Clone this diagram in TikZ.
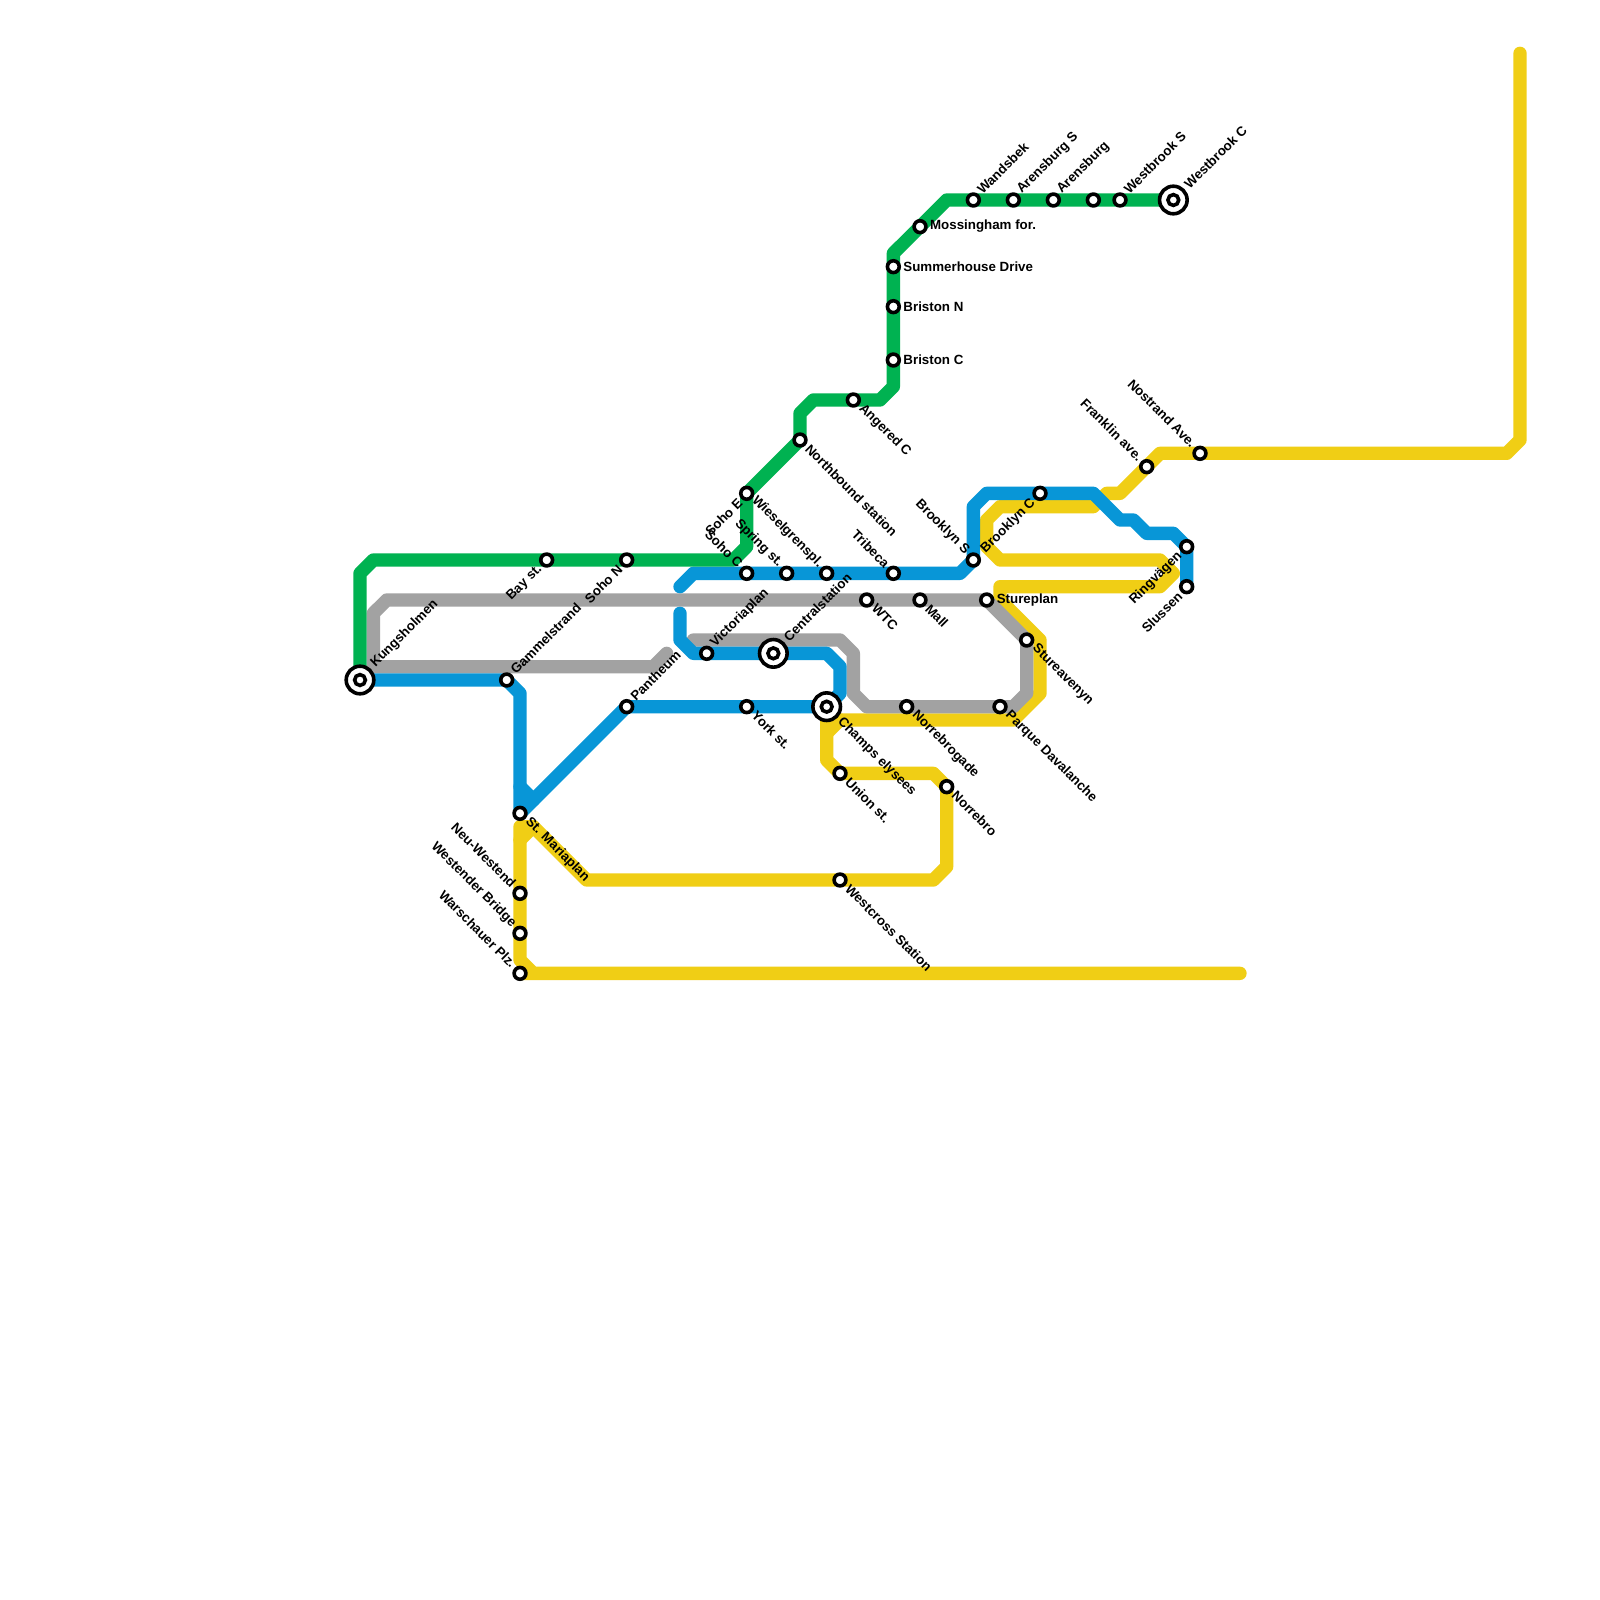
\documentclass[tikz,border=0pt]{standalone}
\usepackage{fontspec}
\setmainfont{Liberation Sans}[BoldFont={Liberation Sans Bold}]
\pgfdeclarelayer{fg}
\pgfsetlayers{main,fg}
\tikzset{
  x=1pt,y=-1pt,
  mline/.style={line width=13.33pt,line cap=round,line join=round},
  ygl/.style={mline,draw=cyellow},
  grl/.style={mline,draw=cgray},
  bll/.style={mline,draw=cblue},
  gnl/.style={mline,draw=cgreen},
  stn/.style={circle,draw=black,fill=white,line width=3.6pt,minimum size=11.8pt,inner sep=0pt,outer sep=0pt},
  hubo/.style={circle,draw=black,fill=white,line width=3.6pt,minimum size=27.6pt,inner sep=0pt,outer sep=0pt},
  hubi/.style={circle,draw=black,fill=white,line width=3.6pt,minimum size=10.8pt,inner sep=0pt,outer sep=0pt},
  lbl/.style={font=\fontsize{13.33pt}{14pt}\selectfont\bfseries,inner sep=0pt,text=black},
  lne/.style={lbl,rotate=45,anchor=west},
  lse/.style={lbl,rotate=-45,anchor=west},
  lnw/.style={lbl,rotate=-45,anchor=east},
  lsw/.style={lbl,rotate=45,anchor=east},
  lea/.style={lbl,anchor=west}
}
\definecolor{cgreen}{HTML}{00B251}
\definecolor{cblue}{HTML}{0896D7}
\definecolor{cyellow}{HTML}{F0CE15}
\definecolor{cgray}{HTML}{A2A2A2}
% station: name, x, y, style, label, dx, dy
\newcommand{\stat}[7]{\node[stn] (#1) at (#2,#3) {}; \node[#4] (#1l) at (#2+#6,#3+#7) {#5};}
\newcommand{\hubst}[7]{\node[hubo] (#1) at (#2,#3) {}; \node[hubi] (#1i) at (#1) {}; \node[#4] (#1l) at (#2+#6,#3+#7) {#5};}
\newcommand{\sne}[4]{\stat{#1}{#2}{#3}{lne}{#4}{6}{-8.3}}
\newcommand{\sse}[4]{\stat{#1}{#2}{#3}{lse}{#4}{7.5}{6.5}}
\newcommand{\snw}[4]{\stat{#1}{#2}{#3}{lnw}{#4}{-6}{-8}}
\newcommand{\ssw}[4]{\stat{#1}{#2}{#3}{lsw}{#4}{-6.5}{7.5}}
\newcommand{\sea}[4]{\stat{#1}{#2}{#3}{lea}{#4}{9.9}{-0.4}}
\begin{document}
\begin{tikzpicture}
\useasboundingbox[fill=white] (0,0) rectangle (1600,1600);
\begin{pgfonlayer}{fg}
\hubst{kung}{360}{680}{lne}{Kungsholmen}{13}{-14.5}
\hubst{cent}{773.33}{653.33}{lne}{Centralstation}{12.5}{-14}
\hubst{west}{1173.33}{200}{lne}{Westbrook C}{13}{-13.5}
\hubst{cham}{826.67}{706.67}{lse}{Champs elysees}{13}{13}
\sne{gamm}{506.67}{680}{Gammelstrand}
\sne{panth}{626.67}{706.67}{Pantheum}
\sne{vict}{706.67}{653.33}{Victoriaplan}
\sne{wand}{973.33}{200}{Wandsbek}
\sne{ares}{1013.33}{200}{Arensburg S}
\sne{aren}{1053.33}{200}{Arensburg}
\node[stn] (unnm) at (1093.33,200) {};
\sne{wbrs}{1120}{200}{Westbrook S}
\ssw{brkc}{1040}{493.33}{Brooklyn C}
\ssw{bay}{546.67}{560}{Bay st.}
\ssw{sohn}{626.67}{560}{Soho N}
\ssw{sohe}{746.67}{493.33}{Soho E}
\ssw{ring}{1186.67}{546.67}{Ringvägen}
\ssw{sluss}{1186.67}{586.67}{Slussen}
\snw{sohc}{746.67}{573.33}{Soho C}
\snw{spri}{786.67}{573.33}{Spring st.}
\snw{wies}{826.67}{573.33}{Wieselgrenspl.}
\snw{trib}{893.33}{573.33}{Tribeca}
\snw{brks}{973.33}{560}{Brooklyn S}
\snw{fran}{1146.67}{466.67}{Franklin ave.}
\snw{nost}{1200}{453.33}{Nostrand Ave.}
\snw{neuw}{520}{893.33}{Neu-Westend}
\snw{wbri}{520}{933.33}{Westender Bridge}
\snw{wars}{520}{973.33}{Warschauer Plz.}
\sse{mari}{520}{813.33}{St. Mariaplan}
\sse{nort}{800}{440}{Northbound station}
\sse{ange}{853.33}{400}{Angered C}
\sse{wtc}{866.67}{600}{WTC}
\sse{mall}{920}{600}{Mall}
\sse{york}{746.67}{706.67}{York st.}
\sse{unio}{840}{773.33}{Union st.}
\sse{wcro}{840}{880}{Westcross Station}
\sse{norr}{946.67}{786.67}{Norrebro}
\sse{ngad}{906.67}{706.67}{Norrebrogade}
\sse{parq}{1000}{706.67}{Parque Davalanche}
\sse{stua}{1026.67}{640}{Stureavenyn}
\sea{stup}{986.67}{600}{Stureplan}
\sea{moss}{920}{226.67}{Mossingham for.}
\sea{summ}{893.33}{266.67}{Summerhouse Drive}
\sea{brin}{893.33}{306.67}{Briston N}
\sea{bric}{893.33}{360}{Briston C}
\end{pgfonlayer}
% yellow
\coordinate (yend1) at (1240,973.33);
\coordinate (yend2) at (1520,53.33);
\draw[ygl] (yend1) -- (wars.center) -- (533.33,973.33) -- (520,960) -- (520,826.67) -- (533.33,826.67) -- (586.67,880) -- (933.33,880) -- (946.67,866.67) -- (946.67,786.67) -- (933.33,773.33) -- (840,773.33) -- (826.67,760) -- (826.67,720) -- (1013.33,720) -- (1040,693.33) -- (1040,640) -- (1000,600) -- (1000,586.67) -- (1160,586.67) -- (1173.33,573.33) -- (1160,560) -- (1000,560) -- (986.67,546.67) -- (986.67,520) -- (1000,506.67) -- (1093.33,506.67) -- (1106.67,493.33) -- (1120,493.33) -- (1160,453.33) -- (1506.67,453.33) -- (1520,440) -- (yend2);
\draw[ygl] (520,840) -- (533.33,826.67);
\draw[ygl] (826.67,733.33) -- (840,720);
% gray
\coordinate (gend1) at (666.67,653.33);
\coordinate (gend2) at (693.33,640);
\draw[grl] (gend1) -- (653.33,666.67) -- (373.33,666.67) -- (373.33,613.33) -- (386.67,600) -- (986.67,600) -- (1026.67,640) -- (1026.67,693.33) -- (1013.33,706.67) -- (866.67,706.67) -- (853.33,693.33) -- (853.33,653.33) -- (840,640) -- (gend2);
% blue
\coordinate (bend1) at (680,613.33);
\coordinate (bend2) at (680,586.67);
\draw[bll] (kung.center) -- (506.67,680) -- (520,693.33) -- (520,813.33) -- (mari.center) -- (panth.center) -- (cham.center) -- (840,693.33) -- (840,666.67) -- (826.67,653.33) -- (693.33,653.33) -- (680,640) -- (bend1);
\draw[bll] (520,786.67) -- (533.33,800);
\draw[bll] (bend2) -- (693.33,573.33) -- (960,573.33) -- (973.33,560) -- (973.33,506.67) -- (986.67,493.33) -- (1093.33,493.33) -- (1120,520) -- (1133.33,520) -- (1146.67,533.33) -- (1173.33,533.33) -- (ring.center) -- (sluss.center);
% green
\draw[gnl] (kung.center) -- (360,573.33) -- (373.33,560) -- (733.33,560) -- (746.67,546.67) -- (sohe.center) -- (nort.center) -- (800,413.33) -- (813.33,400) -- (880,400) -- (893.33,386.67) -- (893.33,253.33) -- (946.67,200) -- (west.center);
\end{tikzpicture}
\end{document}
